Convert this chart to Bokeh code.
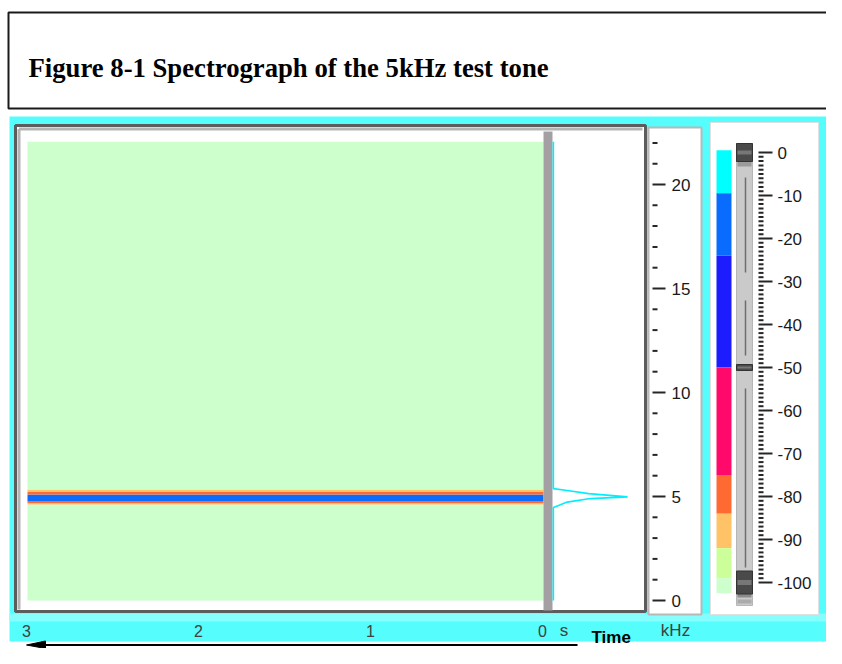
from bokeh.plotting import figure
from bokeh.models import Range1d
from bokeh.core.properties import value
from bokeh.embed import file_html
from bokeh.resources import INLINE

# ---------------- data ----------------
TITLE = "Figure 8-1 Spectrograph of the 5kHz test tone"

# colour scale (dB): band edges from top to bottom and their colours
LEVEL_EDGES_DB = [0.5, -9.5, -24, -50, -75, -84, -92, -99, -102.5]
LEVEL_COLORS = ["#00ffff", "#0a6cff", "#1c1cff", "#ff0a6a",
                "#ff6a33", "#ffc266", "#ccff99", "#ccffcc"]

# spectrogram rows: frequency bin edges (kHz) and level (dB), constant over time
ROW_EDGES_KHZ = [0.0, 4.61, 4.69, 4.785, 5.095, 5.22, 5.335, 22.05]
ROW_LEVELS_DB = [-101, -88, -80, -15, -80, -88, -101]
TIME_SPAN_S = [3.0, 0.0]

# instantaneous spectrum at t = 0 s
SPEC_FREQ_KHZ = [0.0, 4.47, 4.57, 4.73, 4.90, 4.98, 5.14, 5.29, 5.38, 22.05]
SPEC_LEVEL_DB = [-101, -101, -95, -85, -58, -15, -60, -85, -101, -101]

# axes
TIME_TICKS_S = [3, 2, 1, 0]
FREQ_MINOR_KHZ = list(range(0, 23))
FREQ_MAJOR_KHZ = [0, 5, 10, 15, 20]
DB_MINOR = list(range(0, -101, -1))
DB_MAJOR = list(range(0, -101, -10))
SLIDER_DB = [0, -50, -100]

# ---------------- layout (picture pixels) ----------------
FX0, FX1, FY0, FY1 = 0, 826, 0, 648


def lin_range(v1, p1, v2, p2, lo, hi):
    k = (v2 - v1) / (p2 - p1)
    return Range1d(start=v1 + (lo - p1) * k, end=v1 + (hi - p1) * k)


p = figure(width=FX1 - FX0, height=FY1 - FY0,
           x_range=Range1d(FX0, FX1), y_range=Range1d(FY1, FY0),
           x_axis_type=None, y_axis_type=None,
           output_backend="svg", toolbar_location=None,
           min_border=0, outline_line_color=None,
           background_fill_color="white", border_fill_color="white")

p.extra_x_ranges = {
    "time": lin_range(0.0, 543, 3.0, 27, FX0, FX1),
    "level": lin_range(-102.0, 552, 0.0, 640, FX0, FX1),
}
p.extra_y_ranges = {
    "freq": lin_range(0.0, 600, 20.0, 184, FY1, FY0),
    "db": lin_range(0.0, 152, -100.0, 582, FY1, FY0),
}

SANS = value("Liberation Sans")

# title box
p.quad(left=8, right=860, top=12, bottom=108, fill_color="white",
       line_color="#1a1a1a", line_width=2)
p.text(x=[28], y=[67], text=[TITLE], text_font=value("Liberation Serif"),
       text_font_style="bold", text_font_size="26.7px",
       text_baseline="alphabetic", text_color="black")

# cyan background
p.quad(left=9, right=860, top=116, bottom=641, fill_color="#55fdfd", line_color=None)
p.quad(left=9, right=860, top=613, bottom=621, fill_color="#86fefe", line_color=None)

# main spectrogram panel frame
p.quad(left=15, right=645, top=125, bottom=611, fill_color="white",
       line_color="#5c5c5c", line_width=3)
p.multi_line(xs=[[18.5, 18.5], [18.5, 642]], ys=[[609, 128.5], [128.5, 128.5]],
             line_color="#b4b4b4", line_width=3)


def level_color(db):
    for i in range(len(LEVEL_COLORS)):
        if LEVEL_EDGES_DB[i] >= db > LEVEL_EDGES_DB[i + 1]:
            return LEVEL_COLORS[i]
    return LEVEL_COLORS[-1]


row_colors = [level_color(v) for v in ROW_LEVELS_DB]
p.quad(left=[TIME_SPAN_S[0]] * len(ROW_LEVELS_DB),
       right=[TIME_SPAN_S[1]] * len(ROW_LEVELS_DB),
       bottom=ROW_EDGES_KHZ[:-1], top=ROW_EDGES_KHZ[1:],
       fill_color=row_colors, line_color=None,
       x_range_name="time", y_range_name="freq")

# time cursor bar (at 0 s)
p.quad(left=543, right=552, top=131, bottom=610, fill_color="#a39fa3", line_color=None)

# spectrum trace
p.line(x=SPEC_LEVEL_DB, y=SPEC_FREQ_KHZ, line_color="#00eeff", line_width=1.6,
       x_range_name="level", y_range_name="freq")

# frequency axis panel
p.quad(left=648, right=701, top=127, bottom=614, fill_color="white",
       line_color="#b8b8b8", line_width=2)
p.segment(x0=[652] * len(FREQ_MINOR_KHZ),
          x1=[665 if f in FREQ_MAJOR_KHZ else 657 for f in FREQ_MINOR_KHZ],
          y0=FREQ_MINOR_KHZ, y1=FREQ_MINOR_KHZ, line_color="#262626",
          line_width=2, y_range_name="freq")
p.text(x=[671] * len(FREQ_MAJOR_KHZ), y=FREQ_MAJOR_KHZ,
       text=[str(f) for f in FREQ_MAJOR_KHZ], text_font=SANS,
       text_font_size="17px", text_baseline="middle", text_align="left",
       text_color="#1a1a1a", y_range_name="freq")

# colour bar panel
p.quad(left=710, right=818, top=122, bottom=614, fill_color="white",
       line_color="#e0e0e0", line_width=1)
p.quad(left=[716] * len(LEVEL_COLORS), right=[731] * len(LEVEL_COLORS),
       top=LEVEL_EDGES_DB[:-1], bottom=LEVEL_EDGES_DB[1:],
       fill_color=LEVEL_COLORS, line_color=None, y_range_name="db")

# level slider
p.quad(left=736, right=752, top=143, bottom=605, fill_color="#cacaca",
       line_color="#b6b6b6", line_width=1)
p.multi_line(xs=[[745, 745], [745, 745], [745, 745]],
             ys=[[177, 272], [300, 355], [388, 567]],
             line_color="#6e6e6e", line_width=1.5)
p.quad(left=[737, 737, 737], right=[751, 751, 751],
       top=[161, 593, 599], bottom=[166, 597, 603],
       fill_color=["#9a9a9a", "#8c8c8c", "#ababab"], line_color=None)
p.rect(x=[744] * 3, y=SLIDER_DB, width=16, height=[18, 6, 23],
       height_units="screen", fill_color="#4a4a4a", line_color="#333333",
       y_range_name="db")
p.rect(x=[744] * 3, y=SLIDER_DB, width=14, height=[4, 2, 5],
       height_units="screen", fill_color="#777777", line_color=None,
       y_range_name="db")

# dB scale
p.segment(x0=[758] * len(DB_MINOR),
          x1=[772 if d in DB_MAJOR else 763 for d in DB_MINOR],
          y0=DB_MINOR, y1=DB_MINOR, line_color="#262626", line_width=2,
          y_range_name="db")
p.text(x=[777] * len(DB_MAJOR), y=DB_MAJOR, text=[str(d) for d in DB_MAJOR],
       text_font=SANS, text_font_size="17px", text_baseline="middle",
       text_align="left", text_color="#1a1a1a", y_range_name="db")

# bottom time labels
p.text(x=TIME_TICKS_S, y=[630] * len(TIME_TICKS_S),
       text=[str(t) for t in TIME_TICKS_S], text_font=SANS,
       text_font_size="16px", text_baseline="middle", text_align="center",
       x_offset=-1, text_color="#404040", x_range_name="time")
p.text(x=[563.5, 675], y=[630, 630], text=["s", "kHz"], text_font=SANS,
       text_font_size="17px", text_baseline="middle", text_align="center",
       text_color="#404040")

# time arrow
p.segment(x0=[44], x1=[577], y0=[644.5], y1=[644.5], line_color="black", line_width=2)
p.patch(x=[26, 45, 45], y=[644.5, 640.5, 648], fill_color="black", line_color="black")
p.text(x=[591], y=[646.5], text=["Time"], text_font=SANS, text_font_style="bold",
       text_font_size="17px", text_baseline="bottom", text_color="black")

open("out.html", "w").write(file_html(p, INLINE))
